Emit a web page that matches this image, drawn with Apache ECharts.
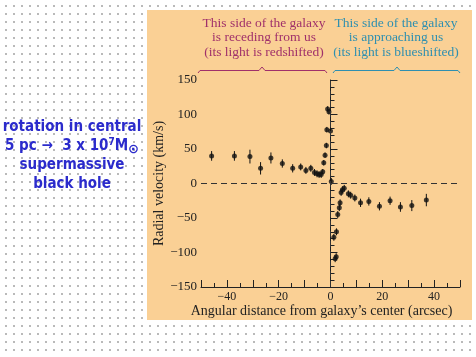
<!DOCTYPE html>
<html>
<head>
<meta charset="utf-8">
<script src="https://cdn.jsdelivr.net/npm/echarts@6/dist/echarts.min.js"></script>
<style>
html,body{margin:0;padding:0;background:#fff;}
#c{width:476px;height:357px;
 background-color:#fff;
 background-image:radial-gradient(circle, #b8b8b8 0.7px, rgba(255,255,255,0) 1px);
 background-size:8px 8px;background-position:2px 2px;}
</style>
</head>
<body>
<div id="c"></div>
<script>
// Angular distance from galaxy's center (arcsec)
var offsets = [-45.9,-37.1,-31.1,-27.0,-23.0,-18.6,-14.6,-11.5,-9.5,-7.6,-6.2,-5.2,-4.4,-3.6,-3.0,-2.6,-2.1,-1.6,-1.4,-1.1,-0.6,0.0,0.3,
               1.3,2.3,1.8,2.2,2.8,3.4,3.7,4.1,4.6,5.3,6.9,7.8,9.4,11.6,14.8,18.9,23.0,27.0,31.4,37.0];
// Radial velocity (km/s)
var velocities = [40,40,39,22,37,29,22,24,19,22,16,14,13,13,17,30,41,55,78,108,104,76,3,
                  -78,-70,-109,-106,-45,-35,-28,-13,-9,-7,-15,-17,-21,-28,-26,-33,-25,-34,-32,-24];
// Error bar half-length (km/s)
var errors = [7,7,10,9,8,6,6,5,5,5,5,5,5,5,4,4,4,4,4,4,4,4,5,
              5,5,5,5,5,5,5,5,5,5,5,5,5,6,6,6,6,7,8,9];
var xTicks = [-40,-20,0,20,40];
var yTicks = [-150,-100,-50,0,50,100,150];

var pts = offsets.map(function(x,i){return [x, velocities[i], errors[i]];});
function minus(v){return String(v).replace('-', '\u2212');}

var chart = echarts.init(document.getElementById('c'), null, {renderer:'canvas'});
var serif = 'Liberation Serif';
var maroon = '#A0306A', teal = '#2E8FB0', blue = '#2B2BCC';
chart.setOption({
  animation:false,
  backgroundColor:'transparent',
  grid:{left:201, right:16, top:80, bottom:70},
  xAxis:{
    type:'value', min:-50, max:50, interval:10,
    name:'Angular distance from galaxy\u2019s center (arcsec)',
    nameLocation:'middle', nameGap:17, nameMoveOverlap:false,
    nameTextStyle:{fontFamily:serif, fontSize:14, color:'#222', padding:[0,18,0,0]},
    axisLine:{onZero:false, lineStyle:{color:'#222', width:1}},
    axisTick:{inside:true, length:7, lineStyle:{color:'#222'},
      interval:function(i,v){return xTicks.indexOf(Number(v))>=0;}},
    minorTick:{show:true, splitNumber:2, length:4, lineStyle:{color:'#222'}},
    axisLabel:{fontFamily:serif, fontSize:12, color:'#222', margin:4,
      formatter:function(v){return xTicks.indexOf(v)>=0 ? minus(v) : '';}},
    splitLine:{show:false}
  },
  yAxis:{
    type:'value', min:-150, max:150, interval:50,
    name:'Radial velocity (km/s)', nameLocation:'middle', nameGap:35, nameMoveOverlap:false,
    nameTextStyle:{fontFamily:serif, fontSize:14, color:'#222'},
    axisLine:{lineStyle:{color:'#222', width:1}},
    axisTick:{inside:true, length:7, lineStyle:{color:'#222'}},
    minorTick:{show:true, splitNumber:5, length:4, lineStyle:{color:'#222'}},
    axisLabel:{fontFamily:serif, fontSize:13, color:'#222', margin:4,
      formatter:function(v){return minus(v);}},
    splitLine:{show:false}
  },
  graphic:[
    {type:'rect', z:-10, shape:{x:147,y:10,width:325,height:310}, style:{fill:'#FAD095'}},
    {type:'text', z:100, style:{
      x:264, y:16, text:'This side of the galaxy\nis receding from us\n(its light is redshifted)',
      fill:maroon, font:'13.5px "Liberation Serif"', textAlign:'center', lineHeight:14.5}},
    {type:'text', z:100, style:{
      x:396, y:16, text:'This side of the galaxy\nis approaching us\n(its light is blueshifted)',
      fill:teal, font:'13.5px "Liberation Serif"', textAlign:'center', lineHeight:14.5}},
    {type:'polyline', z:100, shape:{points:[[198,73],[200,70.5],[259,70.5],[262,67],[265,70.5],[325,70.5],[327,73]]},
      style:{stroke:maroon, lineWidth:1, fill:null}},
    {type:'polyline', z:100, shape:{points:[[333,73],[335,70.5],[394,70.5],[397,67],[400,70.5],[458,70.5],[460,73]]},
      style:{stroke:teal, lineWidth:1, fill:null}},
    {type:'text', z:100, style:{
      x:72, y:118, textAlign:'center',
      text:'rotation in central\n5 pc \u2192  3 x 10{sup|7}M{sun|\u2299}\nsupermassive\nblack hole',
      lineHeight:19, fill:blue, font:'bold 15px "DejaVu Sans Condensed"',
      rich:{
        sup:{fontSize:10, fontWeight:'bold', fontFamily:'DejaVu Sans Condensed', fill:blue, verticalAlign:'top', lineHeight:19, padding:[0,0,6,0]},
        sun:{fontSize:13, fontWeight:'bold', fontFamily:'DejaVu Sans', fill:blue, lineHeight:19, padding:[6,0,0,0]}
      }}}
  ],
  series:[
    {
      type:'custom', z:3,
      data:pts,
      renderItem:function(params, api){
        var x = api.value(0), y = api.value(1), e = api.value(2);
        var top = api.coord([x, y+e]), bot = api.coord([x, y-e]);
        return {type:'line', shape:{x1:top[0], y1:top[1], x2:bot[0], y2:bot[1]},
          style:{stroke:'#111', lineWidth:1}};
      },
      encode:{x:0, y:1},
      silent:true
    },
    {
      type:'scatter', z:4, data:pts, symbol:'circle', symbolSize:5,
      itemStyle:{color:'#111'},
      markLine:{
        silent:true, symbol:'none', label:{show:false},
        lineStyle:{color:'#333', type:[6,4], width:1},
        data:[{xAxis:0},{yAxis:0}]
      }
    }
  ]
});
</script>
</body>
</html>
